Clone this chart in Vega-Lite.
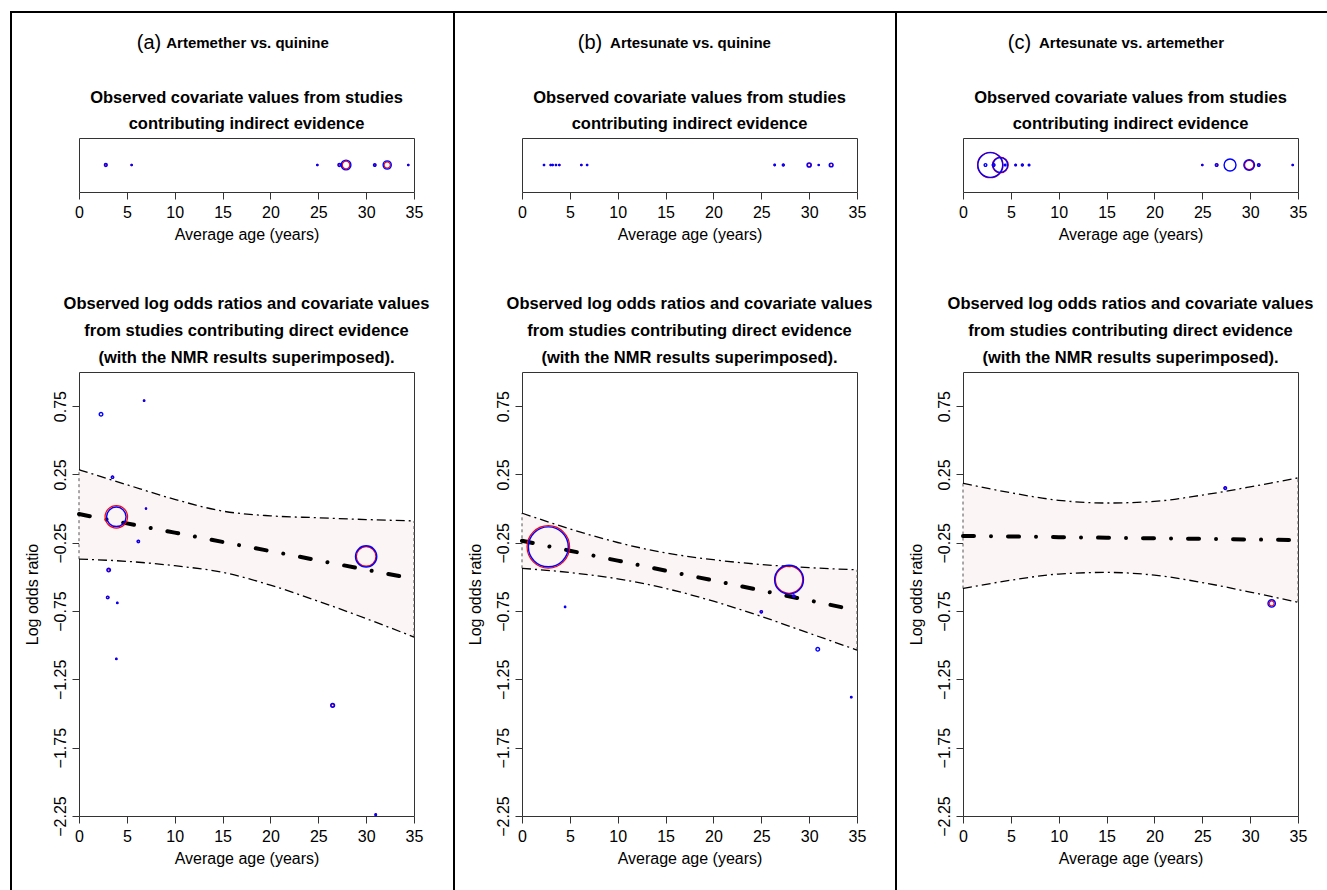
{
  "$schema": "https://vega.github.io/schema/vega-lite/v6.json",
  "padding": {"left": 10, "top": 11, "right": 0, "bottom": 0},
  "background": "white",
  "config": {
    "font": "Liberation Sans",
    "view": {"stroke": "#333333", "strokeWidth": 1},
    "axis": {
      "labelFontSize": 16, "titleFontSize": 16, "titleFontWeight": "normal",
      "labelColor": "#000000", "titleColor": "#000000", "tickColor": "#333333",
      "tickSize": 7, "domain": false, "grid": false, "labelPadding": 5,
      "labelFlush": false, "labelOverlap": false
    },
    "title": {
      "font": "Liberation Sans", "fontWeight": "bold", "color": "#000000",
      "frame": "group", "anchor": "middle"
    }
  },
  "datasets": {
    "studies": [
      {"panel": "a", "kind": "indirect", "age": 2.8, "wb": 0.45, "wr": 0.25},
      {"panel": "a", "kind": "indirect", "age": 5.5, "wb": 0.1, "wr": 0.08},
      {"panel": "a", "kind": "indirect", "age": 24.9, "wb": 0.1, "wr": 0.08},
      {"panel": "a", "kind": "indirect", "age": 27.2, "wb": 0.45, "wr": 0.25},
      {"panel": "a", "kind": "indirect", "age": 27.9, "wb": 5.25, "wr": 3.1},
      {"panel": "a", "kind": "indirect", "age": 30.9, "wb": 0.35, "wr": 0.2},
      {"panel": "a", "kind": "indirect", "age": 32.2, "wb": 3.7, "wr": 2.1},
      {"panel": "a", "kind": "indirect", "age": 34.4, "wb": 0.1, "wr": 0.08},
      {"panel": "a", "kind": "direct", "age": 2.3, "lor": 0.69, "wb": 0.7, "wr": 0},
      {"panel": "a", "kind": "direct", "age": 6.8, "lor": 0.79, "wb": 0.1, "wr": 0.1},
      {"panel": "a", "kind": "direct", "age": 3.5, "lor": 0.23, "wb": 0.3, "wr": 0.3},
      {"panel": "a", "kind": "direct", "age": 7.0, "lor": 0.0, "wb": 0.08, "wr": 0.08},
      {"panel": "a", "kind": "direct", "age": 3.9, "lor": -0.06, "wb": 21, "wr": 28},
      {"panel": "a", "kind": "direct", "age": 6.2, "lor": -0.24, "wb": 0.3, "wr": 0.3},
      {"panel": "a", "kind": "direct", "age": 3.1, "lor": -0.45, "wb": 0.7, "wr": 0.3},
      {"panel": "a", "kind": "direct", "age": 3.0, "lor": -0.65, "wb": 0.35, "wr": 0.3},
      {"panel": "a", "kind": "direct", "age": 4.0, "lor": -0.69, "wb": 0.1, "wr": 0.08},
      {"panel": "a", "kind": "direct", "age": 3.9, "lor": -1.1, "wb": 0.1, "wr": 0.08},
      {"panel": "a", "kind": "direct", "age": 30.0, "lor": -0.35, "wb": 25, "wr": 21},
      {"panel": "a", "kind": "direct", "age": 26.5, "lor": -1.44, "wb": 0.8, "wr": 0.5},
      {"panel": "a", "kind": "direct", "age": 31.0, "lor": -2.24, "wb": 0.15, "wr": 0.1},
      {"panel": "b", "kind": "indirect", "age": 2.3, "wb": 0.1, "wr": 0.08},
      {"panel": "b", "kind": "indirect", "age": 3.0, "wb": 0.1, "wr": 0.08},
      {"panel": "b", "kind": "indirect", "age": 3.2, "wb": 0.1, "wr": 0.08},
      {"panel": "b", "kind": "indirect", "age": 3.55, "wb": 0.1, "wr": 0.08},
      {"panel": "b", "kind": "indirect", "age": 3.9, "wb": 0.1, "wr": 0.08},
      {"panel": "b", "kind": "indirect", "age": 6.2, "wb": 0.1, "wr": 0.08},
      {"panel": "b", "kind": "indirect", "age": 6.8, "wb": 0.1, "wr": 0.08},
      {"panel": "b", "kind": "indirect", "age": 26.4, "wb": 0.12, "wr": 0.1},
      {"panel": "b", "kind": "indirect", "age": 27.3, "wb": 0.2, "wr": 0.15},
      {"panel": "b", "kind": "indirect", "age": 30.0, "wb": 1.0, "wr": 0.6},
      {"panel": "b", "kind": "indirect", "age": 31.0, "wb": 0.08, "wr": 0.06},
      {"panel": "b", "kind": "indirect", "age": 32.3, "wb": 0.8, "wr": 0.5},
      {"panel": "b", "kind": "direct", "age": 2.75, "lor": -0.28, "wb": 88, "wr": 100},
      {"panel": "b", "kind": "direct", "age": 4.5, "lor": -0.72, "wb": 0.1, "wr": 0.08},
      {"panel": "b", "kind": "direct", "age": 25.0, "lor": -0.755, "wb": 0.3, "wr": 0.25},
      {"panel": "b", "kind": "direct", "age": 27.9, "lor": -0.52, "wb": 46, "wr": 41},
      {"panel": "b", "kind": "direct", "age": 28.4, "lor": -0.64, "wb": 0.3, "wr": 0.2},
      {"panel": "b", "kind": "direct", "age": 30.9, "lor": -1.03, "wb": 0.7, "wr": 0},
      {"panel": "b", "kind": "direct", "age": 34.4, "lor": -1.38, "wb": 0.12, "wr": 0.08},
      {"panel": "c", "kind": "indirect", "age": 2.35, "wb": 0.4, "wr": 0},
      {"panel": "c", "kind": "indirect", "age": 2.85, "wb": 34, "wr": 36},
      {"panel": "c", "kind": "indirect", "age": 3.2, "wb": 0.4, "wr": 0.25},
      {"panel": "c", "kind": "indirect", "age": 3.9, "wb": 12, "wr": 14},
      {"panel": "c", "kind": "indirect", "age": 4.4, "wb": 0.15, "wr": 0.1},
      {"panel": "c", "kind": "indirect", "age": 5.5, "wb": 0.15, "wr": 0.1},
      {"panel": "c", "kind": "indirect", "age": 6.2, "wb": 0.2, "wr": 0.15},
      {"panel": "c", "kind": "indirect", "age": 6.9, "wb": 0.15, "wr": 0.1},
      {"panel": "c", "kind": "indirect", "age": 25.0, "wb": 0.1, "wr": 0.08},
      {"panel": "c", "kind": "indirect", "age": 26.5, "wb": 0.4, "wr": 0.25},
      {"panel": "c", "kind": "indirect", "age": 27.9, "wb": 7.8, "wr": 0},
      {"panel": "c", "kind": "indirect", "age": 29.9, "wb": 6.25, "wr": 4.6},
      {"panel": "c", "kind": "indirect", "age": 30.9, "wb": 0.35, "wr": 0.25},
      {"panel": "c", "kind": "indirect", "age": 34.45, "wb": 0.1, "wr": 0.08},
      {"panel": "c", "kind": "direct", "age": 27.4, "lor": 0.15, "wb": 0.4, "wr": 0.3},
      {"panel": "c", "kind": "direct", "age": 32.25, "lor": -0.694, "wb": 3.0, "wr": 1.3}
    ],
    "nmr": [
      {"panel": "a", "age": 0, "lo": -0.37, "mid": -0.04, "hi": 0.285},
      {"panel": "a", "age": 5, "lo": -0.386, "mid": -0.108, "hi": 0.175},
      {"panel": "a", "age": 10, "lo": -0.418, "mid": -0.176, "hi": 0.068},
      {"panel": "a", "age": 15, "lo": -0.466, "mid": -0.244, "hi": -0.018},
      {"panel": "a", "age": 20, "lo": -0.56, "mid": -0.311, "hi": -0.053},
      {"panel": "a", "age": 25, "lo": -0.678, "mid": -0.379, "hi": -0.067},
      {"panel": "a", "age": 30, "lo": -0.805, "mid": -0.447, "hi": -0.08},
      {"panel": "a", "age": 35, "lo": -0.94, "mid": -0.515, "hi": -0.09},
      {"panel": "b", "age": 0, "lo": -0.437, "mid": -0.235, "hi": -0.033},
      {"panel": "b", "age": 5, "lo": -0.468, "mid": -0.308, "hi": -0.148},
      {"panel": "b", "age": 10, "lo": -0.514, "mid": -0.381, "hi": -0.248},
      {"panel": "b", "age": 15, "lo": -0.584, "mid": -0.454, "hi": -0.324},
      {"panel": "b", "age": 20, "lo": -0.678, "mid": -0.526, "hi": -0.374},
      {"panel": "b", "age": 25, "lo": -0.789, "mid": -0.599, "hi": -0.409},
      {"panel": "b", "age": 30, "lo": -0.912, "mid": -0.672, "hi": -0.432},
      {"panel": "b", "age": 35, "lo": -1.035, "mid": -0.745, "hi": -0.448},
      {"panel": "c", "age": 0, "lo": -0.585, "mid": -0.2, "hi": 0.185},
      {"panel": "c", "age": 5, "lo": -0.524, "mid": -0.204, "hi": 0.116},
      {"panel": "c", "age": 10, "lo": -0.479, "mid": -0.209, "hi": 0.061},
      {"panel": "c", "age": 15, "lo": -0.467, "mid": -0.213, "hi": 0.041},
      {"panel": "c", "age": 20, "lo": -0.487, "mid": -0.217, "hi": 0.053},
      {"panel": "c", "age": 25, "lo": -0.541, "mid": -0.221, "hi": 0.099},
      {"panel": "c", "age": 30, "lo": -0.611, "mid": -0.226, "hi": 0.159},
      {"panel": "c", "age": 35, "lo": -0.685, "mid": -0.23, "hi": 0.225}
    ]
  },
  "spacing": 0,
  "vconcat": [
    {"width": 1320, "height": 2, "data": {"values": []}, "mark": "point", "encoding": {}, "view": {"fill": "#000000", "stroke": null}},
    {
      "spacing": 0,
      "hconcat": [
        {"width": 2, "height": 880, "data": {"values": []}, "mark": "point", "encoding": {}, "view": {"fill": "#000000", "stroke": null}},
        {"width": 11, "height": 1, "data": {"values": []}, "mark": "point", "encoding": {}, "view": {"stroke": null}},
        {
          "spacing": 0,
          "vconcat": [
            {
              "width": 335, "height": 76, "data": {"values": []}, "mark": "point", "view": {"stroke": null},
              "encoding": {
                "x": {"datum": 0, "type": "quantitative", "scale": {"domain": [0, 1]}, "axis": {"orient": "top", "title": "Artemether vs. quinine", "ticks": false, "labels": false, "titleFontSize": 15, "titleFontWeight": "bold", "titleX": 168, "titleY": 29, "titleAlign": "center", "titleBaseline": "middle", "titleAngle": 0}},
                "y": {"datum": 0, "type": "quantitative", "scale": {"domain": [0, 1]}, "axis": {"title": "(a)", "ticks": false, "labels": false, "titleFontSize": 20, "titleFontWeight": "normal", "titleX": 69.5, "titleY": 29, "titleAlign": "center", "titleBaseline": "middle", "titleAngle": 0}}
              }
            },
            {
              "width": 335, "height": 54,
              "title": {"text": ["Observed covariate values from studies", "contributing indirect evidence"], "fontSize": 16.5, "lineHeight": 26, "offset": 6},
              "data": {"name": "studies"},
              "transform": [{"filter": "datum.panel === 'a' && datum.kind === 'indirect'"}],
              "encoding": {"x": {"field": "age", "type": "quantitative", "title": "Average age (years)", "scale": {"domain": [0, 35], "nice": false, "zero": false}, "axis": {"values": [0, 5, 10, 15, 20, 25, 30, 35], "format": "d", "titlePadding": 6}}},
              "layer": [
                {"transform": [{"filter": "datum.wr > 0"}], "mark": {"type": "point", "shape": "circle", "filled": false, "color": "#ff0000", "strokeWidth": 1.2, "opacity": 1}, "encoding": {"size": {"field": "wr", "type": "quantitative", "scale": {"domain": [0, 100], "range": [0, 1810]}, "legend": null}}},
                {"transform": [{"filter": "datum.wb > 0"}], "mark": {"type": "point", "shape": "circle", "filled": false, "color": "#0000ff", "strokeWidth": 1.4, "opacity": 1}, "encoding": {"size": {"field": "wb", "type": "quantitative", "scale": {"domain": [0, 100], "range": [0, 1810]}, "legend": null}}}
              ]
            },
            {"width": 335, "height": 52, "data": {"values": []}, "mark": "point", "encoding": {}, "view": {"stroke": null}},
            {
              "width": 335, "height": 444,
              "title": {"text": ["Observed log odds ratios and covariate values", "from studies contributing direct evidence", "(with the NMR results superimposed)."], "fontSize": 16.5, "lineHeight": 27, "offset": 6},
              "encoding": {"x": {"field": "age", "type": "quantitative", "title": "Average age (years)", "scale": {"domain": [0, 35], "nice": false, "zero": false}, "axis": {"values": [0, 5, 10, 15, 20, 25, 30, 35], "format": "d", "titlePadding": 6}}},
              "layer": [
                {"data": {"name": "nmr"}, "transform": [{"filter": "datum.panel === 'a'"}], "mark": {"type": "area", "color": "#fcf5f5", "interpolate": "monotone"},
                 "encoding": {"y": {"field": "lo", "type": "quantitative", "title": "Log odds ratio", "scale": {"domain": [-2.25, 1], "nice": false, "zero": false},
                   "axis": {"values": [-2.25, -2, -1.75, -1.5, -1.25, -1, -0.75, -0.5, -0.25, 0, 0.25, 0.5, 0.75], "format": ".2f", "labelExpr": "indexof([-2.25, -1.75, -1.25, -0.75, -0.25, 0.25, 0.75], datum.value) >= 0 ? datum.label : ''", "labelAngle": -90, "labelAlign": "center", "labelBaseline": "bottom", "labelPadding": 4, "titlePadding": 12}},
                   "y2": {"field": "hi"}}},
                {"data": {"name": "nmr"}, "transform": [{"filter": "datum.panel === 'a' && (datum.age === 0 || datum.age === 35)"}], "mark": {"type": "rule", "color": "#555555", "strokeWidth": 1, "strokeDash": [3, 3]},
                 "encoding": {"y": {"field": "lo", "type": "quantitative", "title": "Log odds ratio", "scale": {"domain": [-2.25, 1], "nice": false, "zero": false}}, "y2": {"field": "hi"}}},
                {"data": {"name": "nmr"}, "transform": [{"filter": "datum.panel === 'a'"}], "mark": {"type": "line", "color": "#000000", "strokeWidth": 1.3, "strokeDash": [9, 4, 2, 4], "interpolate": "monotone"},
                 "encoding": {"y": {"field": "hi", "type": "quantitative", "title": "Log odds ratio", "scale": {"domain": [-2.25, 1], "nice": false, "zero": false}}}},
                {"data": {"name": "nmr"}, "transform": [{"filter": "datum.panel === 'a'"}], "mark": {"type": "line", "color": "#000000", "strokeWidth": 1.3, "strokeDash": [9, 4, 2, 4], "interpolate": "monotone"},
                 "encoding": {"y": {"field": "lo", "type": "quantitative", "title": "Log odds ratio", "scale": {"domain": [-2.25, 1], "nice": false, "zero": false}}}},
                {"data": {"name": "nmr"}, "transform": [{"filter": "datum.panel === 'a'"}], "mark": {"type": "line", "color": "#000000", "strokeWidth": 4, "strokeDash": [11, 17, 0.01, 17], "strokeCap": "round"},
                 "encoding": {"y": {"field": "mid", "type": "quantitative", "title": "Log odds ratio", "scale": {"domain": [-2.25, 1], "nice": false, "zero": false}}}},
                {"data": {"name": "studies"}, "transform": [{"filter": "datum.panel === 'a' && datum.kind === 'direct' && datum.wr > 0"}], "mark": {"type": "point", "shape": "circle", "filled": false, "color": "#ff0000", "strokeWidth": 1.2, "opacity": 1},
                 "encoding": {"y": {"field": "lor", "type": "quantitative", "title": "Log odds ratio", "scale": {"domain": [-2.25, 1], "nice": false, "zero": false}}, "size": {"field": "wr", "type": "quantitative", "scale": {"domain": [0, 100], "range": [0, 1810]}, "legend": null}}},
                {"data": {"name": "studies"}, "transform": [{"filter": "datum.panel === 'a' && datum.kind === 'direct' && datum.wb > 0"}], "mark": {"type": "point", "shape": "circle", "filled": false, "color": "#0000ff", "strokeWidth": 1.4, "opacity": 1},
                 "encoding": {"y": {"field": "lor", "type": "quantitative", "title": "Log odds ratio", "scale": {"domain": [-2.25, 1], "nice": false, "zero": false}}, "size": {"field": "wb", "type": "quantitative", "scale": {"domain": [0, 100], "range": [0, 1810]}, "legend": null}}}
              ]
            }
          ]
        },
        {"width": 23, "height": 1, "data": {"values": []}, "mark": "point", "encoding": {}, "view": {"stroke": null}},
        {"width": 2, "height": 880, "data": {"values": []}, "mark": "point", "encoding": {}, "view": {"fill": "#000000", "stroke": null}},
        {"width": 11, "height": 1, "data": {"values": []}, "mark": "point", "encoding": {}, "view": {"stroke": null}},
        {
          "spacing": 0,
          "vconcat": [
            {
              "width": 335, "height": 76, "data": {"values": []}, "mark": "point", "view": {"stroke": null},
              "encoding": {
                "x": {"datum": 0, "type": "quantitative", "scale": {"domain": [0, 1]}, "axis": {"orient": "top", "title": "Artesunate vs. quinine", "ticks": false, "labels": false, "titleFontSize": 15, "titleFontWeight": "bold", "titleX": 168, "titleY": 29, "titleAlign": "center", "titleBaseline": "middle", "titleAngle": 0}},
                "y": {"datum": 0, "type": "quantitative", "scale": {"domain": [0, 1]}, "axis": {"title": "(b)", "ticks": false, "labels": false, "titleFontSize": 20, "titleFontWeight": "normal", "titleX": 67.5, "titleY": 29, "titleAlign": "center", "titleBaseline": "middle", "titleAngle": 0}}
              }
            },
            {
              "width": 335, "height": 54,
              "title": {"text": ["Observed covariate values from studies", "contributing indirect evidence"], "fontSize": 16.5, "lineHeight": 26, "offset": 6},
              "data": {"name": "studies"},
              "transform": [{"filter": "datum.panel === 'b' && datum.kind === 'indirect'"}],
              "encoding": {"x": {"field": "age", "type": "quantitative", "title": "Average age (years)", "scale": {"domain": [0, 35], "nice": false, "zero": false}, "axis": {"values": [0, 5, 10, 15, 20, 25, 30, 35], "format": "d", "titlePadding": 6}}},
              "layer": [
                {"transform": [{"filter": "datum.wr > 0"}], "mark": {"type": "point", "shape": "circle", "filled": false, "color": "#ff0000", "strokeWidth": 1.2, "opacity": 1}, "encoding": {"size": {"field": "wr", "type": "quantitative", "scale": {"domain": [0, 100], "range": [0, 1810]}, "legend": null}}},
                {"transform": [{"filter": "datum.wb > 0"}], "mark": {"type": "point", "shape": "circle", "filled": false, "color": "#0000ff", "strokeWidth": 1.4, "opacity": 1}, "encoding": {"size": {"field": "wb", "type": "quantitative", "scale": {"domain": [0, 100], "range": [0, 1810]}, "legend": null}}}
              ]
            },
            {"width": 335, "height": 52, "data": {"values": []}, "mark": "point", "encoding": {}, "view": {"stroke": null}},
            {
              "width": 335, "height": 444,
              "title": {"text": ["Observed log odds ratios and covariate values", "from studies contributing direct evidence", "(with the NMR results superimposed)."], "fontSize": 16.5, "lineHeight": 27, "offset": 6},
              "encoding": {"x": {"field": "age", "type": "quantitative", "title": "Average age (years)", "scale": {"domain": [0, 35], "nice": false, "zero": false}, "axis": {"values": [0, 5, 10, 15, 20, 25, 30, 35], "format": "d", "titlePadding": 6}}},
              "layer": [
                {"data": {"name": "nmr"}, "transform": [{"filter": "datum.panel === 'b'"}], "mark": {"type": "area", "color": "#fcf5f5", "interpolate": "monotone"},
                 "encoding": {"y": {"field": "lo", "type": "quantitative", "title": "Log odds ratio", "scale": {"domain": [-2.25, 1], "nice": false, "zero": false},
                   "axis": {"values": [-2.25, -2, -1.75, -1.5, -1.25, -1, -0.75, -0.5, -0.25, 0, 0.25, 0.5, 0.75], "format": ".2f", "labelExpr": "indexof([-2.25, -1.75, -1.25, -0.75, -0.25, 0.25, 0.75], datum.value) >= 0 ? datum.label : ''", "labelAngle": -90, "labelAlign": "center", "labelBaseline": "bottom", "labelPadding": 4, "titlePadding": 12}},
                   "y2": {"field": "hi"}}},
                {"data": {"name": "nmr"}, "transform": [{"filter": "datum.panel === 'b' && (datum.age === 0 || datum.age === 35)"}], "mark": {"type": "rule", "color": "#555555", "strokeWidth": 1, "strokeDash": [3, 3]},
                 "encoding": {"y": {"field": "lo", "type": "quantitative", "title": "Log odds ratio", "scale": {"domain": [-2.25, 1], "nice": false, "zero": false}}, "y2": {"field": "hi"}}},
                {"data": {"name": "nmr"}, "transform": [{"filter": "datum.panel === 'b'"}], "mark": {"type": "line", "color": "#000000", "strokeWidth": 1.3, "strokeDash": [9, 4, 2, 4], "interpolate": "monotone"},
                 "encoding": {"y": {"field": "hi", "type": "quantitative", "title": "Log odds ratio", "scale": {"domain": [-2.25, 1], "nice": false, "zero": false}}}},
                {"data": {"name": "nmr"}, "transform": [{"filter": "datum.panel === 'b'"}], "mark": {"type": "line", "color": "#000000", "strokeWidth": 1.3, "strokeDash": [9, 4, 2, 4], "interpolate": "monotone"},
                 "encoding": {"y": {"field": "lo", "type": "quantitative", "title": "Log odds ratio", "scale": {"domain": [-2.25, 1], "nice": false, "zero": false}}}},
                {"data": {"name": "nmr"}, "transform": [{"filter": "datum.panel === 'b'"}], "mark": {"type": "line", "color": "#000000", "strokeWidth": 4, "strokeDash": [11, 17, 0.01, 17], "strokeCap": "round"},
                 "encoding": {"y": {"field": "mid", "type": "quantitative", "title": "Log odds ratio", "scale": {"domain": [-2.25, 1], "nice": false, "zero": false}}}},
                {"data": {"name": "studies"}, "transform": [{"filter": "datum.panel === 'b' && datum.kind === 'direct' && datum.wr > 0"}], "mark": {"type": "point", "shape": "circle", "filled": false, "color": "#ff0000", "strokeWidth": 1.2, "opacity": 1},
                 "encoding": {"y": {"field": "lor", "type": "quantitative", "title": "Log odds ratio", "scale": {"domain": [-2.25, 1], "nice": false, "zero": false}}, "size": {"field": "wr", "type": "quantitative", "scale": {"domain": [0, 100], "range": [0, 1810]}, "legend": null}}},
                {"data": {"name": "studies"}, "transform": [{"filter": "datum.panel === 'b' && datum.kind === 'direct' && datum.wb > 0"}], "mark": {"type": "point", "shape": "circle", "filled": false, "color": "#0000ff", "strokeWidth": 1.4, "opacity": 1},
                 "encoding": {"y": {"field": "lor", "type": "quantitative", "title": "Log odds ratio", "scale": {"domain": [-2.25, 1], "nice": false, "zero": false}}, "size": {"field": "wb", "type": "quantitative", "scale": {"domain": [0, 100], "range": [0, 1810]}, "legend": null}}}
              ]
            }
          ]
        },
        {"width": 22, "height": 1, "data": {"values": []}, "mark": "point", "encoding": {}, "view": {"stroke": null}},
        {"width": 2, "height": 880, "data": {"values": []}, "mark": "point", "encoding": {}, "view": {"fill": "#000000", "stroke": null}},
        {"width": 10, "height": 1, "data": {"values": []}, "mark": "point", "encoding": {}, "view": {"stroke": null}},
        {
          "spacing": 0,
          "vconcat": [
            {
              "width": 335, "height": 76, "data": {"values": []}, "mark": "point", "view": {"stroke": null},
              "encoding": {
                "x": {"datum": 0, "type": "quantitative", "scale": {"domain": [0, 1]}, "axis": {"orient": "top", "title": "Artesunate vs. artemether", "ticks": false, "labels": false, "titleFontSize": 15, "titleFontWeight": "bold", "titleX": 168, "titleY": 29, "titleAlign": "center", "titleBaseline": "middle", "titleAngle": 0}},
                "y": {"datum": 0, "type": "quantitative", "scale": {"domain": [0, 1]}, "axis": {"title": "(c)", "ticks": false, "labels": false, "titleFontSize": 20, "titleFontWeight": "normal", "titleX": 56, "titleY": 29, "titleAlign": "center", "titleBaseline": "middle", "titleAngle": 0}}
              }
            },
            {
              "width": 335, "height": 54,
              "title": {"text": ["Observed covariate values from studies", "contributing indirect evidence"], "fontSize": 16.5, "lineHeight": 26, "offset": 6},
              "data": {"name": "studies"},
              "transform": [{"filter": "datum.panel === 'c' && datum.kind === 'indirect'"}],
              "encoding": {"x": {"field": "age", "type": "quantitative", "title": "Average age (years)", "scale": {"domain": [0, 35], "nice": false, "zero": false}, "axis": {"values": [0, 5, 10, 15, 20, 25, 30, 35], "format": "d", "titlePadding": 6}}},
              "layer": [
                {"transform": [{"filter": "datum.wr > 0"}], "mark": {"type": "point", "shape": "circle", "filled": false, "color": "#ff0000", "strokeWidth": 1.2, "opacity": 1}, "encoding": {"size": {"field": "wr", "type": "quantitative", "scale": {"domain": [0, 100], "range": [0, 1810]}, "legend": null}}},
                {"transform": [{"filter": "datum.wb > 0"}], "mark": {"type": "point", "shape": "circle", "filled": false, "color": "#0000ff", "strokeWidth": 1.4, "opacity": 1}, "encoding": {"size": {"field": "wb", "type": "quantitative", "scale": {"domain": [0, 100], "range": [0, 1810]}, "legend": null}}}
              ]
            },
            {"width": 335, "height": 52, "data": {"values": []}, "mark": "point", "encoding": {}, "view": {"stroke": null}},
            {
              "width": 335, "height": 444,
              "title": {"text": ["Observed log odds ratios and covariate values", "from studies contributing direct evidence", "(with the NMR results superimposed)."], "fontSize": 16.5, "lineHeight": 27, "offset": 6},
              "encoding": {"x": {"field": "age", "type": "quantitative", "title": "Average age (years)", "scale": {"domain": [0, 35], "nice": false, "zero": false}, "axis": {"values": [0, 5, 10, 15, 20, 25, 30, 35], "format": "d", "titlePadding": 6}}},
              "layer": [
                {"data": {"name": "nmr"}, "transform": [{"filter": "datum.panel === 'c'"}], "mark": {"type": "area", "color": "#fcf5f5", "interpolate": "monotone"},
                 "encoding": {"y": {"field": "lo", "type": "quantitative", "title": "Log odds ratio", "scale": {"domain": [-2.25, 1], "nice": false, "zero": false},
                   "axis": {"values": [-2.25, -2, -1.75, -1.5, -1.25, -1, -0.75, -0.5, -0.25, 0, 0.25, 0.5, 0.75], "format": ".2f", "labelExpr": "indexof([-2.25, -1.75, -1.25, -0.75, -0.25, 0.25, 0.75], datum.value) >= 0 ? datum.label : ''", "labelAngle": -90, "labelAlign": "center", "labelBaseline": "bottom", "labelPadding": 4, "titlePadding": 12}},
                   "y2": {"field": "hi"}}},
                {"data": {"name": "nmr"}, "transform": [{"filter": "datum.panel === 'c' && (datum.age === 0 || datum.age === 35)"}], "mark": {"type": "rule", "color": "#555555", "strokeWidth": 1, "strokeDash": [3, 3]},
                 "encoding": {"y": {"field": "lo", "type": "quantitative", "title": "Log odds ratio", "scale": {"domain": [-2.25, 1], "nice": false, "zero": false}}, "y2": {"field": "hi"}}},
                {"data": {"name": "nmr"}, "transform": [{"filter": "datum.panel === 'c'"}], "mark": {"type": "line", "color": "#000000", "strokeWidth": 1.3, "strokeDash": [9, 4, 2, 4], "interpolate": "monotone"},
                 "encoding": {"y": {"field": "hi", "type": "quantitative", "title": "Log odds ratio", "scale": {"domain": [-2.25, 1], "nice": false, "zero": false}}}},
                {"data": {"name": "nmr"}, "transform": [{"filter": "datum.panel === 'c'"}], "mark": {"type": "line", "color": "#000000", "strokeWidth": 1.3, "strokeDash": [9, 4, 2, 4], "interpolate": "monotone"},
                 "encoding": {"y": {"field": "lo", "type": "quantitative", "title": "Log odds ratio", "scale": {"domain": [-2.25, 1], "nice": false, "zero": false}}}},
                {"data": {"name": "nmr"}, "transform": [{"filter": "datum.panel === 'c'"}], "mark": {"type": "line", "color": "#000000", "strokeWidth": 4, "strokeDash": [11, 17, 0.01, 17], "strokeCap": "round"},
                 "encoding": {"y": {"field": "mid", "type": "quantitative", "title": "Log odds ratio", "scale": {"domain": [-2.25, 1], "nice": false, "zero": false}}}},
                {"data": {"name": "studies"}, "transform": [{"filter": "datum.panel === 'c' && datum.kind === 'direct' && datum.wr > 0"}], "mark": {"type": "point", "shape": "circle", "filled": false, "color": "#ff0000", "strokeWidth": 1.2, "opacity": 1},
                 "encoding": {"y": {"field": "lor", "type": "quantitative", "title": "Log odds ratio", "scale": {"domain": [-2.25, 1], "nice": false, "zero": false}}, "size": {"field": "wr", "type": "quantitative", "scale": {"domain": [0, 100], "range": [0, 1810]}, "legend": null}}},
                {"data": {"name": "studies"}, "transform": [{"filter": "datum.panel === 'c' && datum.kind === 'direct' && datum.wb > 0"}], "mark": {"type": "point", "shape": "circle", "filled": false, "color": "#0000ff", "strokeWidth": 1.4, "opacity": 1},
                 "encoding": {"y": {"field": "lor", "type": "quantitative", "title": "Log odds ratio", "scale": {"domain": [-2.25, 1], "nice": false, "zero": false}}, "size": {"field": "wb", "type": "quantitative", "scale": {"domain": [0, 100], "range": [0, 1810]}, "legend": null}}}
              ]
            }
          ]
        }
      ]
    }
  ]
}
